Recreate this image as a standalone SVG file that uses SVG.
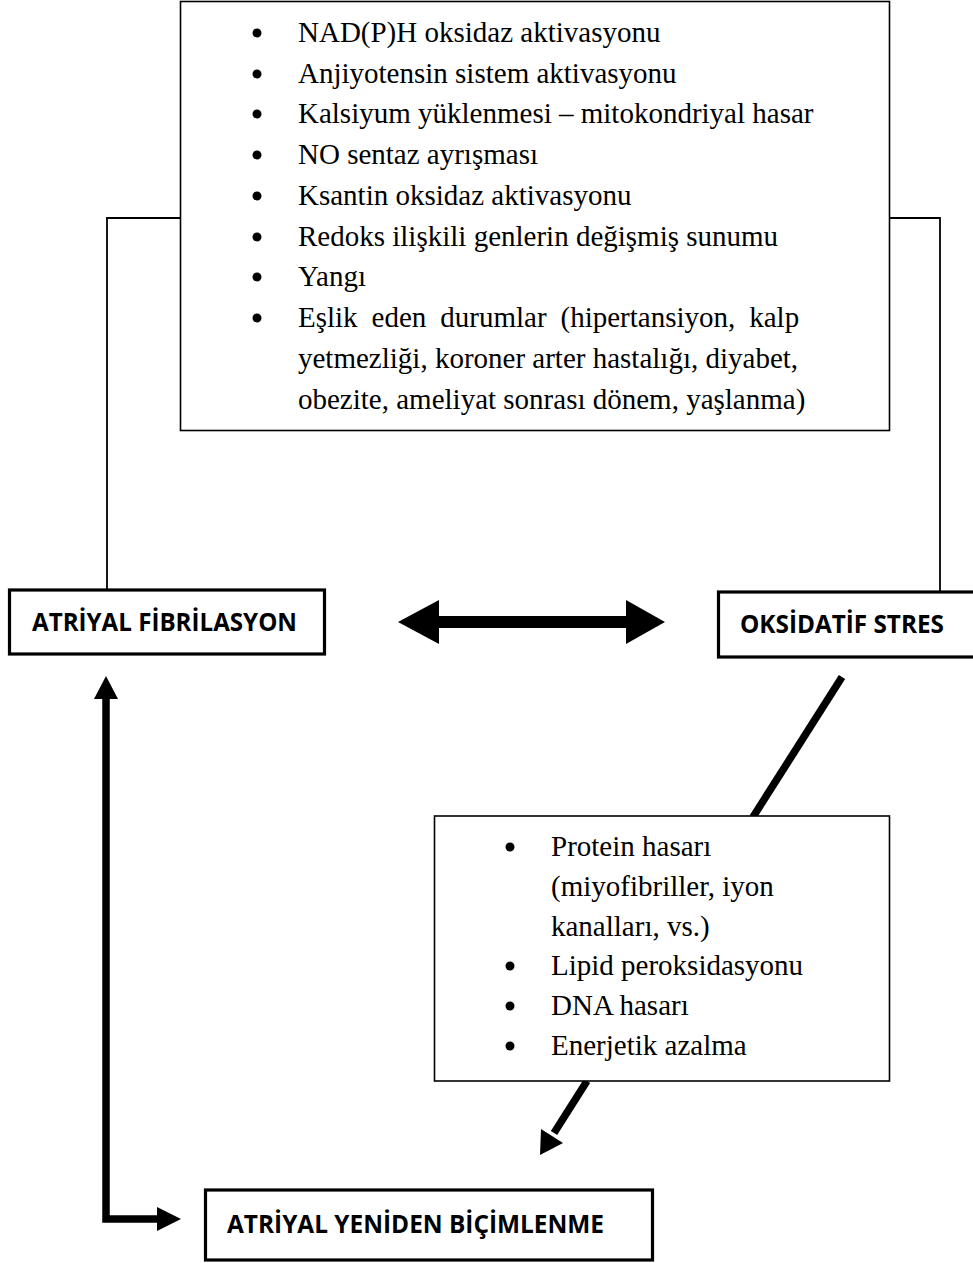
<svg xmlns="http://www.w3.org/2000/svg" width="973" height="1263" viewBox="0 0 973 1263">
<style>
.box{fill:#fff;stroke:#000;stroke-width:1.6}
.tbox{fill:#fff;stroke:#000;stroke-width:3.2}
.ser{font-family:"Liberation Serif","Times New Roman",serif;font-size:29px;fill:#000}
.lab{font-family:"Open Sans","Liberation Sans",sans-serif;font-weight:bold;font-size:24.5px;fill:#000}
.thin{fill:none;stroke:#000;stroke-width:1.8}
.thick{fill:none;stroke:#000;stroke-width:7.5}
.head{fill:#000}
</style>
<rect width="973" height="1263" fill="#fff"/>
<g id="connectors">
  <polyline class="thin" points="180,218 107,218 107,589"/>
  <polyline class="thin" points="889,218 940,218 940,592"/>
  <polygon class="head" points="398,622 439,600 439,616 626,616 626,600 665,622 626,644 626,628 439,628 439,644"/>
  <line class="thick" x1="842" y1="677" x2="753" y2="817"/>
  <line class="thick" x1="587" y1="1081" x2="554" y2="1133"/>
  <polygon class="head" points="540,1155 541,1129 563,1143"/>
  <polyline class="thick" points="106,697 106,1219 159,1219" style="stroke-linejoin:miter"/>
  <polygon class="head" points="106,676 94,699 118,699"/>
  <polygon class="head" points="181,1219 157,1207 157,1231"/>
</g>
<g id="causes">
  <rect class="box" x="180.5" y="1.5" width="709" height="429"/>
  <g class="ser">
    <circle cx="257" cy="33" r="4.5"/><text x="298" y="42">NAD(P)H oksidaz aktivasyonu</text>
    <circle cx="257" cy="74" r="4.5"/><text x="298" y="83">Anjiyotensin sistem aktivasyonu</text>
    <circle cx="257" cy="114" r="4.5"/><text x="298" y="123">Kalsiyum yüklenmesi – mitokondriyal hasar</text>
    <circle cx="257" cy="155" r="4.5"/><text x="298" y="164">NO sentaz ayrışması</text>
    <circle cx="257" cy="196" r="4.5"/><text x="298" y="205">Ksantin oksidaz aktivasyonu</text>
    <circle cx="257" cy="237" r="4.5"/><text x="298" y="246">Redoks ilişkili genlerin değişmiş sunumu</text>
    <circle cx="257" cy="277" r="4.5"/><text x="298" y="286">Yangı</text>
    <circle cx="257" cy="318" r="4.5"/><text x="298" y="327" style="word-spacing:6.7px">Eşlik eden durumlar (hipertansiyon, kalp</text>
    <text x="298" y="368">yetmezliği, koroner arter hastalığı, diyabet,</text>
    <text x="298" y="409">obezite, ameliyat sonrası dönem, yaşlanma)</text>
  </g>
</g>
<g id="atriyal-fibrilasyon">
  <rect class="tbox" x="9.5" y="590" width="315" height="64"/>
  <text class="lab" x="32" y="631" textLength="265" lengthAdjust="spacingAndGlyphs">ATRİYAL FİBRİLASYON</text>
</g>
<g id="oksidatif-stres">
  <rect class="tbox" x="718.5" y="592" width="260" height="65"/>
  <text class="lab" x="740" y="633" textLength="204" lengthAdjust="spacingAndGlyphs">OKSİDATİF STRES</text>
</g>
<g id="damage">
  <rect class="box" x="434.5" y="816" width="455" height="265"/>
  <g class="ser">
    <circle cx="510" cy="847" r="4.5"/><text x="551" y="856">Protein hasarı</text>
    <text x="551" y="896">(miyofibriller, iyon</text>
    <text x="551" y="936">kanalları, vs.)</text>
    <circle cx="510" cy="966" r="4.5"/><text x="551" y="975">Lipid peroksidasyonu</text>
    <circle cx="510" cy="1006" r="4.5"/><text x="551" y="1015">DNA hasarı</text>
    <circle cx="510" cy="1046" r="4.5"/><text x="551" y="1055">Enerjetik azalma</text>
  </g>
</g>
<g id="atriyal-yeniden-bicimlenme">
  <rect class="tbox" x="205.5" y="1190" width="447" height="70"/>
  <text class="lab" x="227" y="1233" textLength="377" lengthAdjust="spacingAndGlyphs">ATRİYAL YENİDEN BİÇİMLENME</text>
</g>
</svg>
